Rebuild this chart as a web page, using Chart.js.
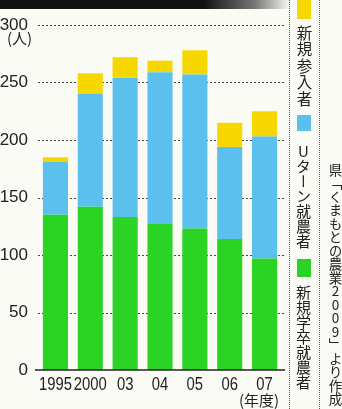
<!DOCTYPE html>
<html>
<head>
<meta charset="utf-8">
<script src="https://cdn.jsdelivr.net/npm/chart.js@4/dist/chart.umd.min.js"></script>
<style>
  html, body { margin: 0; padding: 0; background: #fbfbf5; }
  #wrap { position: relative; width: 342px; height: 409px; overflow: hidden; font-family: 'Noto Sans CJK JP', sans-serif; color: #222; }
  #chart-box { position: absolute; left: 0; top: 0; width: 290px; height: 409px; }
  .title-bar { position: absolute; left: 0; top: 0; width: 290px; height: 9px;
    background: linear-gradient(to right, #111 0%, #111 70%, #777 88%, rgba(255,255,255,0) 100%); }
  .vline { position: absolute; top: 0; height: 409px; border-left: 1px dotted #555; }
  .swatch { position: absolute; left: 297px; width: 14px; }
  .vtext { position: absolute; writing-mode: vertical-rl; text-orientation: upright; line-height: 1; white-space: nowrap; }
  .unit { position: absolute; font-size: 15px; line-height: 1; }
</style>
</head>
<body>
<div id="wrap">
  <div id="chart-box"><canvas id="kumamoto-chart" width="290" height="409"></canvas></div>
  <div class="title-bar"></div>
  <div class="unit" style="left:7px; top:30px;">(人)</div>
  <div class="unit" style="left:239px; top:392px;">(年度)</div>

  <div class="vline" style="left:289px;"></div>
  <div class="vline" style="left:319px;"></div>

  <div class="swatch" style="top:0; height:19px; background:#f6d800;"></div>
  <div class="vtext" style="left:296px; top:25px; font-size:15.5px; letter-spacing:1px;">新規参入者</div>
  <div class="swatch" style="top:115px; height:16px; background:#5cc0ef;"></div>
  <div class="vtext" style="left:296px; top:144px; font-size:15px;">Uターン就農者</div>
  <div class="swatch" style="top:259px; height:18px; background:#2bd325;"></div>
  <div class="vtext" style="left:296px; top:285px; font-size:15px;">新規学卒就農者</div>

  <div class="vtext" style="left:328px; top:163px; font-size:13.5px;">県「くまもとの農業2009」より作成</div>
</div>

<script>
const years = ['1995', '2000', '03', '04', '05', '06', '07'];
const graduates = [135, 142, 133, 127, 123, 114, 97];   // 新規学卒就農者
const uturn = [46, 98, 121, 132, 134, 80, 106];           // Uターン就農者
const newcomers = [4, 18, 18, 10, 21, 21, 22];            // 新規参入者
const yTicks = [0, 50, 100, 150, 200, 250, 300];

const numFont = "'Liberation Sans', Arial, sans-serif";

// dotted gridlines, solid baseline and narrow year labels, all placed from the scales
const printGrid = {
    id: 'printGrid',
    beforeDatasetsDraw(chart) {
        const { ctx, chartArea } = chart;
        const y = chart.scales.y;
        ctx.save();
        ctx.strokeStyle = '#444';
        ctx.lineWidth = 1;
        ctx.setLineDash([2, 2]);
        yTicks.filter(v => v > 0).forEach(v => {
            const py = Math.round(y.getPixelForValue(v)) + 0.5;
            ctx.beginPath();
            ctx.moveTo(chartArea.left, py);
            ctx.lineTo(chartArea.right + 2, py);
            ctx.stroke();
        });
        ctx.restore();
    },
    afterDatasetsDraw(chart) {
        const { ctx, chartArea } = chart;
        const x = chart.scales.x;
        const py = chart.scales.y.getPixelForValue(0);
        ctx.save();
        ctx.strokeStyle = '#222';
        ctx.lineWidth = 1.5;
        ctx.beginPath();
        ctx.moveTo(chartArea.left - 3, py);
        ctx.lineTo(chartArea.right + 3, py);
        ctx.stroke();

        // condensed year labels like the print
        ctx.fillStyle = '#222';
        ctx.font = `19px ${numFont}`;
        ctx.textAlign = 'center';
        ctx.textBaseline = 'top';
        years.forEach((label, i) => {
            ctx.save();
            ctx.translate(x.getPixelForTick(i), py + 5);
            ctx.scale(0.78, 1);
            ctx.fillText(label, 0, 0);
            ctx.restore();
        });
        ctx.restore();
    }
};

const ctx = document.getElementById('kumamoto-chart').getContext('2d');
new Chart(ctx, {
    type: 'bar',
    data: {
        labels: years,
        datasets: [{
            label: '新規学卒就農者',
            data: graduates,
            backgroundColor: '#2bd325'
        }, {
            label: 'Uターン就農者',
            data: uturn,
            backgroundColor: '#5cc0ef'
        }, {
            label: '新規参入者',
            data: newcomers,
            backgroundColor: '#f6d800'
        }]
    },
    options: {
        responsive: false,
        devicePixelRatio: 1,
        animation: false,
        layout: { padding: { top: 25, right: 8, left: 0, bottom: 0 } },
        datasets: { bar: { categoryPercentage: 1, barPercentage: 0.72 } },
        plugins: { legend: { display: false }, tooltip: { enabled: false } },
        scales: {
            x: {
                stacked: true,
                grid: { display: false },
                border: { display: false },
                ticks: { display: false },
                afterFit(scale) { scale.height = 39; }
            },
            y: {
                stacked: true,
                min: 0,
                max: 300,
                afterBuildTicks(scale) { scale.ticks = yTicks.map(v => ({ value: v })); },
                grid: { display: false },
                border: { display: false },
                ticks: { color: '#222', padding: 2, font: { family: numFont, size: 17 } },
                afterFit(scale) { scale.width = 38; }
            }
        }
    },
    plugins: [printGrid]
});
</script>
</body>
</html>
